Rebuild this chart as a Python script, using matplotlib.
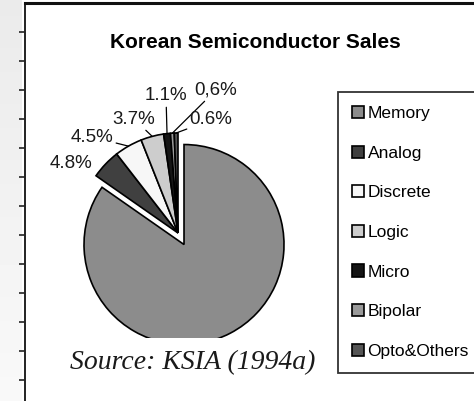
import numpy as np
import matplotlib
matplotlib.use("Agg")
import matplotlib.pyplot as plt
from matplotlib.patches import Rectangle

# data
categories = ["Memory", "Analog", "Discrete", "Logic", "Micro", "Bipolar", "Opto&Others"]
shares = [84.7, 4.8, 4.5, 3.7, 1.1, 0.6, 0.6]
pct_labels = ["", "4.8%", "4.5%", "3.7%", "1.1%", "0,6%", "0.6%"]
colors = ["#8c8c8c", "#404040", "#f7f7f7", "#cdcdcd", "#151515", "#9a9a9a", "#555555"]

# label positions in pixels (x, y from top)
label_pos = [None, (71, 163), (92, 137), (134, 119), (166, 96), (216, 90), (211, 120)]
leader = [False, False, True, True, True, True, True]

W, H = 474, 401
fig = plt.figure(figsize=(W / 100, H / 100), dpi=100)
fig.patch.set_facecolor("white")

# left shadow strip of the scan
bg = fig.add_axes([0, 0, 22 / W, 1])
grad = np.linspace(0.92, 0.975, 50).reshape(-1, 1)
bg.imshow(grad, cmap="gray", vmin=0, vmax=1, aspect="auto", extent=[0, 1, 0, 1])
bg.axis("off")

# frame: left rule with tick marks, thick top rule
fr = fig.add_axes([25 / W, 0, 1 - 25 / W, 1 - 3 / H])
fr.set_xlim(0, 1)
fr.set_ylim(H - 3, 0)
fr.patch.set_alpha(0)
for s in ["right", "bottom"]:
    fr.spines[s].set_visible(False)
fr.spines["left"].set_linewidth(1.4)
fr.spines["left"].set_color("#222222")
fr.spines["top"].set_linewidth(2.2)
fr.spines["top"].set_color("#111111")
fr.set_xticks([])
fr.set_yticks(np.arange(31.7, H, 29.02) - 3)
fr.set_yticklabels([])
fr.tick_params(axis="y", direction="out", length=4, width=1.2, color="#222222")

# main drawing area in pixel coords (y up)
ax = fig.add_axes([0, 0, 1, 1])
cx, cy, R = 178, H - 233, 100
explode = [13, 0, 0, 0, 0, 0, 0]
wedges, _ = ax.pie(shares, colors=colors, explode=explode, startangle=90,
                   counterclock=False, center=(cx, cy), radius=R,
                   wedgeprops=dict(edgecolor="black", linewidth=1.2))
ax.set_xlim(0, W)
ax.set_ylim(0, H)
ax.axis("off")

for w, lab, pos, ln in zip(wedges, pct_labels, label_pos, leader):
    if not lab:
        continue
    mid = np.deg2rad((w.theta1 + w.theta2) / 2)
    tip = (cx + R * np.cos(mid), cy + R * np.sin(mid))
    arrow = dict(arrowstyle="-", color="black", lw=0.9, shrinkA=0, shrinkB=0) if ln else None
    ax.annotate(lab, xy=tip, xytext=(pos[0], H - pos[1]), ha="center", va="center",
                fontsize=13.5, family="Liberation Sans", color="#1a1a1a",
                arrowprops=arrow)

# white area cutting the bottom of the pie, with the source note
ax.add_patch(Rectangle((55, H - 395), 275, 395 - 338, facecolor="white",
                       edgecolor="none", zorder=5))
ax.text(193, H - 363, "Source: KSIA (1994a)", ha="center", va="center",
        fontsize=20, family="Liberation Serif", style="italic", color="#1a1a1a", zorder=6)

ax.text(255, H - 42, "Korean Semiconductor Sales", ha="center", va="center",
        fontsize=15, family="Liberation Sans", weight="bold", color="black")

leg = ax.legend(wedges, categories, loc="upper left",
                bbox_to_anchor=(338 / W, 1 - 92 / H), bbox_transform=fig.transFigure,
                prop=dict(family="Liberation Sans", size=12.5),
                handlelength=0.7, handleheight=0.7, handletextpad=0.2,
                labelspacing=1.41, borderpad=0.8, borderaxespad=0,
                fancybox=False, framealpha=1)
leg.get_frame().set_edgecolor("#333333")
leg.get_frame().set_linewidth(1.3)
for h in leg.legend_handles:
    h.set_linewidth(1.2)

fig.savefig("out.png", dpi=100, facecolor="white")
